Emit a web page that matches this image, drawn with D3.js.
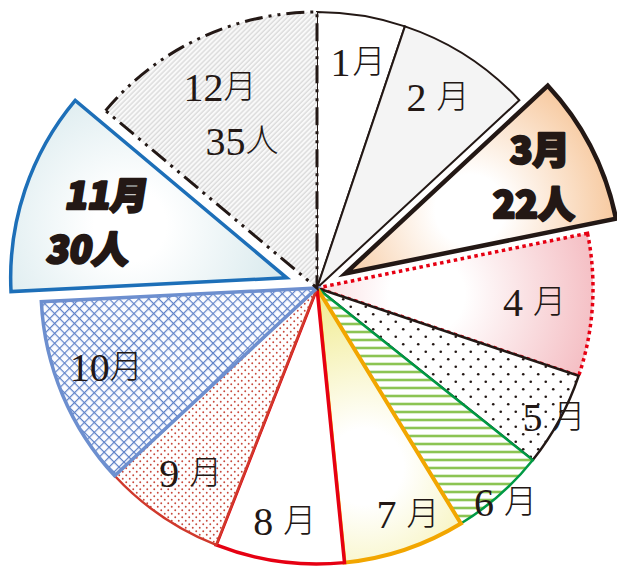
<!DOCTYPE html>
<html>
<head>
<meta charset="utf-8">
<script src="https://cdn.jsdelivr.net/npm/d3@7"></script>
<style>
  body { margin: 0; background: #fff; }
</style>
</head>
<body>
<svg id="pie" width="617" height="568"></svg>
<script>
// data
const months = ["1月", "2月", "3月", "4月", "5月", "6月", "7月", "8月", "9月", "10月", "11月", "12月"];
const counts = [13, 20, 22, 21, 14, 14, 18, 19, 18, 28, 30, 35];
const unit = "人";
const explodedMonths = ["3月", "11月"];
const countShown = ["3月", "11月", "12月"];

const width = 617, height = 568;
const cx = 317, cy = 288, radius = 276, explode = 32;

// look of each slice (fill, outline, label placement)
const look = {
    "1月":  {fill: "#ffffff", stroke: "#231815", sw: 2, lr: 230, la: 1, gap: 2},
    "2月":  {fill: "#f4f4f4", stroke: "#231815", sw: 2, lr: 226, la: -0.5, gap: 10},
    "3月":  {fill: "url(#g3)", stroke: "#231815", sw: 4.5, lr: 215, la: 0, bold: true},
    "4月":  {fill: "url(#g4)", stroke: "#e60012", sw: 3.5, dash: "3.5,3.5", lr: 218, la: 0, gap: 10},
    "5月":  {fill: "url(#p5)", stroke: "#231815", sw: 2.5, lr: 270, la: 0, gap: 10},
    "6月":  {fill: "url(#p6)", stroke: "#009944", sw: 2.5, lr: 285, la: 0, gap: 10},
    "7月":  {fill: "url(#g7)", stroke: "#f2a600", sw: 4, lr: 244, la: -3.3, gap: 10},
    "8月":  {fill: "#ffffff", stroke: "#e60012", sw: 3.5, lr: 235, la: 0, gap: 10},
    "9月":  {fill: "url(#p9)", stroke: "#d0392c", sw: 2.5, lr: 224, la: 0, gap: 10},
    "10月": {fill: "url(#p10)", stroke: "#6d8fcf", sw: 3.5, lr: 225, la: 2.4, gap: 0},
    "11月": {fill: "url(#g11)", stroke: "#1d6fb8", sw: 3.5, lr: 196, la: -1.4, bold: true, italic: true},
    "12月": {fill: "url(#p12)", stroke: "#231815", sw: 3, dash: "18,6,3,6,3,6", lr: 194, la: -1, gap: 0}
};

const svg = d3.select("#pie");
const defs = svg.append("defs");

// radial gradients for the shaded slices
function radial(id, outer, cxp, cyp, r) {
    const g = defs.append("radialGradient").attr("id", id)
        .attr("gradientUnits", "userSpaceOnUse")
        .attr("cx", cxp).attr("cy", cyp).attr("r", r);
    g.append("stop").attr("offset", 0).attr("stop-color", "#ffffff");
    g.append("stop").attr("offset", 0.2).attr("stop-color", "#ffffff");
    g.append("stop").attr("offset", 1).attr("stop-color", outer);
}
function polar(angle, r) {
    return [Math.sin(angle) * r, -Math.cos(angle) * r];
}

// patterns
const p5 = defs.append("pattern").attr("id", "p5").attr("patternUnits", "userSpaceOnUse")
    .attr("width", 15).attr("height", 15);
p5.append("rect").attr("width", 15).attr("height", 15).attr("fill", "#ffffff");
p5.append("circle").attr("cx", 3.75).attr("cy", 3.75).attr("r", 1.3).attr("fill", "#231815");
p5.append("circle").attr("cx", 11.25).attr("cy", 11.25).attr("r", 1.3).attr("fill", "#231815");

const p6 = defs.append("pattern").attr("id", "p6").attr("patternUnits", "userSpaceOnUse")
    .attr("width", 8).attr("height", 8);
p6.append("rect").attr("width", 8).attr("height", 8).attr("fill", "#ffffff");
p6.append("line").attr("x1", 0).attr("x2", 8).attr("y1", 4).attr("y2", 4)
    .attr("stroke", "#8cc453").attr("stroke-width", 2.6);

const p9 = defs.append("pattern").attr("id", "p9").attr("patternUnits", "userSpaceOnUse")
    .attr("width", 7).attr("height", 7);
p9.append("rect").attr("width", 7).attr("height", 7).attr("fill", "#ffffff");
p9.append("circle").attr("cx", 1.75).attr("cy", 1.75).attr("r", 0.95).attr("fill", "#c8493c");
p9.append("circle").attr("cx", 5.25).attr("cy", 5.25).attr("r", 0.95).attr("fill", "#c8493c");

const p10 = defs.append("pattern").attr("id", "p10").attr("patternUnits", "userSpaceOnUse")
    .attr("width", 7).attr("height", 7).attr("patternTransform", "rotate(45)");
p10.append("rect").attr("width", 7).attr("height", 7).attr("fill", "#fbfcff");
p10.append("line").attr("x1", 0).attr("x2", 7).attr("y1", 0.6).attr("y2", 0.6)
    .attr("stroke", "#5f82c8").attr("stroke-width", 1.2);
p10.append("line").attr("x1", 0.6).attr("x2", 0.6).attr("y1", 0).attr("y2", 7)
    .attr("stroke", "#5f82c8").attr("stroke-width", 1.2);

const p12 = defs.append("pattern").attr("id", "p12").attr("patternUnits", "userSpaceOnUse")
    .attr("width", 3.5).attr("height", 3.5).attr("patternTransform", "rotate(45)");
p12.append("rect").attr("width", 3.5).attr("height", 3.5).attr("fill", "#f9f9f9");
p12.append("line").attr("x1", 1).attr("x2", 1).attr("y1", 0).attr("y2", 3.5)
    .attr("stroke", "#cfcfcf").attr("stroke-width", 1);

// pie layout, clockwise from 12 o'clock
const slices = d3.pie().sort(null).value(d => d.count)
    (months.map((m, i) => ({month: m, count: counts[i]})));
const arc = d3.arc().innerRadius(0).outerRadius(radius);
const mid = d => (d.startAngle + d.endAngle) / 2;

// gradients placed along each slice's middle
const byMonth = {};
slices.forEach(d => byMonth[d.data.month] = d);
let [gx, gy] = polar(mid(byMonth["3月"]), 140);
radial("g3", "#f5bb86", gx, gy, 175);
[gx, gy] = polar(mid(byMonth["4月"]), 110);
radial("g4", "#f3b5bb", gx, gy, 190);
[gx, gy] = polar(mid(byMonth["7月"]) + 0.06, 185);
radial("g7", "#f0ea86", gx, gy, 190);
[gx, gy] = polar(mid(byMonth["11月"]), 165);
radial("g11", "#d2e6ea", gx, gy, 180);

const chart = svg.append("g").attr("transform", `translate(${cx},${cy})`);

const slice = chart.selectAll(".slice")
    .data(slices)
    .enter().append("g")
    .attr("class", "slice")
    .attr("transform", d => {
        if (!explodedMonths.includes(d.data.month)) return null;
        const [ox, oy] = polar(mid(d), explode);
        return `translate(${ox},${oy})`;
    });

slice.append("path")
    .attr("d", arc)
    .attr("fill", d => look[d.data.month].fill)
    .attr("stroke", d => look[d.data.month].stroke)
    .attr("stroke-width", d => look[d.data.month].sw)
    .attr("stroke-dasharray", d => look[d.data.month].dash || null)
    .attr("stroke-linejoin", "miter");

// labels
slice.each(function (d) {
    const s = look[d.data.month];
    const a = mid(d) + s.la * Math.PI / 180;
    const [lx, ly] = polar(a, s.lr);
    const g = d3.select(this).append("g").attr("transform", `translate(${lx},${ly})`);
    const num = d.data.month.replace("月", "");
    if (s.bold) {
        const t = g.append("g").attr("transform", s.italic ? "skewX(-9)" : null);
        const lines = [d.data.month, d.data.count + unit];
        t.selectAll("text").data(lines).enter().append("text")
            .attr("x", (v, i) => s.italic ? (i ? -6 : 4) : (i ? -3 : 3))
            .attr("y", (v, i) => i ? 27 : -27)
            .attr("text-anchor", "middle")
            .attr("dominant-baseline", "central")
            .attr("font-family", "'Noto Sans CJK JP', sans-serif")
            .attr("font-weight", 900)
            .attr("font-size", 37)
            .attr("fill", "#231815")
            .attr("stroke", "#231815")
            .attr("stroke-width", 2.6)
            .attr("stroke-linejoin", "round")
            .text(v => v);
    } else {
        const two = countShown.includes(d.data.month);
        const t = g.append("text")
            .attr("x", two ? -12 : 0)
            .attr("y", two ? -27 : 0)
            .attr("text-anchor", "middle")
            .attr("dominant-baseline", "central")
            .attr("font-family", "'Liberation Serif', 'Noto Sans CJK JP', serif")
            .attr("font-size", 40)
            .attr("fill", "#231815");
        t.append("tspan").text(num);
        t.append("tspan").attr("dx", s.gap).attr("font-size", 33).attr("font-weight", 300).text("月");
        if (two) {
            const t2 = g.append("text")
                .attr("x", 10).attr("y", 27)
                .attr("text-anchor", "middle")
                .attr("dominant-baseline", "central")
                .attr("font-family", "'Liberation Serif', 'Noto Sans CJK JP', serif")
                .attr("font-size", 40)
                .attr("fill", "#231815");
            t2.append("tspan").text(d.data.count);
            t2.append("tspan").attr("font-size", 33).attr("font-weight", 300).text(unit);
        }
    }
});
</script>
</body>
</html>
